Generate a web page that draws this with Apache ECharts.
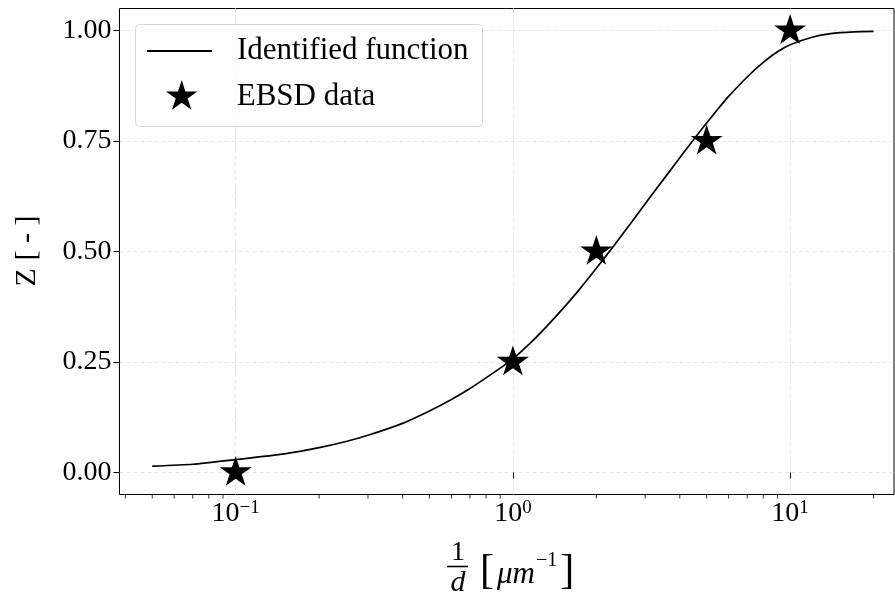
<!DOCTYPE html>
<html>
<head>
    <meta charset="utf-8">
    <script src="https://cdn.jsdelivr.net/npm/echarts@6/dist/echarts.min.js"></script>
</head>
<body style="margin:0">
    <div id="main" style="width:895px;height:602px"></div>
    <script type="text/javascript">
        // curve (x = 1/d, z)
        var curveX = [0.05, 0.07, 0.1, 0.15, 0.2, 0.25, 0.3, 0.4, 0.5, 0.6, 0.7, 0.8, 0.9, 1.0, 1.2, 1.4, 1.7, 2.0, 2.3, 2.7, 3.1, 3.6, 4.1, 4.6, 5.0, 5.5, 6.0, 7.0, 8.0, 9.0, 10, 12, 14, 17, 20];
        var curveZ = [0.014, 0.0185, 0.029, 0.042, 0.056, 0.070, 0.084, 0.111, 0.139, 0.165, 0.190, 0.214, 0.236, 0.257, 0.303, 0.347, 0.407, 0.462, 0.511, 0.569, 0.620, 0.674, 0.721, 0.762, 0.791, 0.823, 0.851, 0.895, 0.928, 0.952, 0.968, 0.985, 0.993, 0.997, 0.998];

        // EBSD points
        var ebsdX = [0.1, 1, 2, 5, 10];
        var ebsdZ = [0, 0.25, 0.5, 0.75, 1.0];

        // ticks
        var xMajor = [0.1, 1, 10];
        var xMinor = [0.04, 0.05, 0.06, 0.07, 0.08, 0.09, 0.2, 0.3, 0.4, 0.5, 0.6, 0.7, 0.8, 0.9, 2, 3, 4, 5, 6, 7, 8, 9, 20];
        var yTicks = [0, 0.25, 0.5, 0.75, 1.0];

        var FONT = 'Liberation Serif';
        var star = 'path://M50,0 L61.226,34.549 L97.553,34.549 L68.164,55.902 L79.389,90.451 L50,69.098 L20.611,90.451 L31.836,55.902 L2.447,34.549 L38.774,34.549 Z M50,100 L50,100';

        function zip(a, b) {
            var out = [];
            for (var i = 0; i < a.length; i++) out.push([a[i], b[i]]);
            return out;
        }

        var chart = echarts.init(document.getElementById('main'));

        var option = {
            animation: false,
            backgroundColor: '#fff',
            grid: {
                left: 119.5, right: 1, top: 8.5, bottom: 107.5,
                containLabel: false,
                outerBoundsMode: 'none',
                show: true,
                borderColor: '#000',
                borderWidth: 1,
                backgroundColor: 'transparent'
            },
            xAxis: {
                type: 'log',
                logBase: 10,
                min: 0.0381,
                max: 23.7,
                axisLine: { show: false },
                axisTick: {
                    show: true, length: 6, customValues: xMajor,
                    lineStyle: { color: '#000', width: 1 }
                },
                axisLabel: {
                    customValues: xMajor,
                    margin: 4,
                    formatter: function (v) {
                        var e = Math.round(Math.log10(v));
                        return '{b|10}{s|' + (e < 0 ? '\u2212' + (-e) : e) + '}';
                    },
                    rich: {
                        b: { fontFamily: FONT, fontSize: 28, color: '#000', lineHeight: 30 },
                        s: { fontFamily: FONT, fontSize: 19, color: '#000', verticalAlign: 'top', lineHeight: 19 }
                    }
                },
                splitLine: {
                    show: true,
                    lineStyle: { color: '#e8e8e8', type: [4, 3], width: 1 }
                }
            },
            yAxis: {
                type: 'value',
                min: -0.05,
                max: 1.05,
                axisLine: { show: false },
                axisTick: {
                    show: true, length: 6, customValues: yTicks,
                    lineStyle: { color: '#000', width: 1 }
                },
                axisLabel: {
                    customValues: yTicks,
                    margin: 8,
                    fontFamily: FONT,
                    fontSize: 28,
                    color: '#000',
                    formatter: function (v) { return v.toFixed(2); }
                },
                splitLine: {
                    show: true,
                    lineStyle: { color: '#e8e8e8', type: [4, 3], width: 1 }
                }
            },
            legend: [{
                selectedMode: false,
                left: 147, top: 35,
                padding: 0,
                itemWidth: 65, itemHeight: 2,
                z: 10,
                data: [{ name: 'Identified function', icon: 'rect' }],
                textStyle: { fontFamily: FONT, fontSize: 31, color: '#000', lineHeight: 32, padding: [0, 0, 0, 20] }
            }, {
                selectedMode: false,
                left: 166, top: 80,
                padding: 0,
                itemWidth: 32, itemHeight: 33,
                z: 10,
                data: [{ name: 'EBSD data', icon: star }],
                textStyle: { fontFamily: FONT, fontSize: 31, color: '#000', lineHeight: 32, padding: [0, 0, 0, 34] }
            }],
            graphic: [
                {
                    type: 'rect', z: 5,
                    shape: { x: 135.5, y: 24.5, width: 347, height: 102, r: 4 },
                    style: { fill: 'rgba(255,255,255,0.8)', stroke: '#d6d6d6', lineWidth: 1 }
                },
                {
                    type: 'text', x: 27, y: 251, rotation: Math.PI / 2,
                    style: { text: 'Z [ - ]', fontFamily: FONT, fontSize: 30, fill: '#000', align: 'center', verticalAlign: 'middle' }
                },
                {
                    type: 'text', x: 458, y: 553,
                    style: { text: '1', fontFamily: FONT, fontSize: 28, fill: '#000', align: 'center', verticalAlign: 'middle' }
                },
                {
                    type: 'line',
                    shape: { x1: 447, y1: 566.5, x2: 468, y2: 566.5 },
                    style: { stroke: '#000', lineWidth: 1.6 }
                },
                {
                    type: 'text', x: 458, y: 583,
                    style: { text: 'd', fontFamily: FONT, fontStyle: 'italic', fontSize: 30, fill: '#000', align: 'center', verticalAlign: 'middle' }
                },
                {
                    type: 'text', x: 480, y: 572,
                    style: {
                        text: '{br|[}{it|\u03bcm}{sp|\u22121}{br|]}',
                        align: 'left', verticalAlign: 'middle',
                        rich: {
                            br: { fontFamily: FONT, fontSize: 42, fill: '#000', lineHeight: 42 },
                            it: { fontFamily: FONT, fontStyle: 'italic', fontSize: 31, fill: '#000', lineHeight: 42, padding: [6, 0, 0, 3] },
                            sp: { fontFamily: FONT, fontSize: 20, fill: '#000', verticalAlign: 'top', lineHeight: 42, padding: [0, 3, 0, 1] }
                        }
                    }
                }
            ],
            series: [{
                name: 'Identified function',
                type: 'line',
                data: zip(curveX, curveZ),
                showSymbol: false,
                symbol: 'none',
                smooth: 0.2,
                color: '#000',
                lineStyle: { color: '#000', width: 1.7 },
                z: 3
            }, {
                name: 'EBSD data',
                type: 'scatter',
                data: zip(ebsdX, ebsdZ),
                symbol: star,
                symbolSize: [32, 33],
                itemStyle: { color: '#000', opacity: 1 },
                clip: false,
                z: 4
            }, {
                name: 'minor',
                type: 'scatter',
                data: xMinor.map(function (v) { return [v, -0.05]; }),
                symbol: 'rect',
                symbolSize: [1, 4],
                symbolOffset: [0, 2],
                itemStyle: { color: '#000' },
                clip: false,
                silent: true,
                z: 2
            }]
        };

        chart.setOption(option);
    </script>
</body>
</html>
